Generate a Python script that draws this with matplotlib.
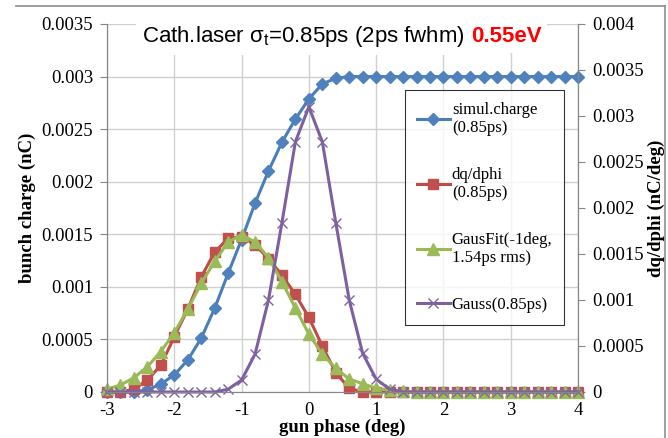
import matplotlib
matplotlib.use("Agg")
import matplotlib.pyplot as plt
from matplotlib.lines import Line2D

# gun phase (deg), step 0.2
phase = [-3.0, -2.8, -2.6, -2.4, -2.2, -2.0, -1.8, -1.6, -1.4, -1.2,
         -1.0, -0.8, -0.6, -0.4, -0.2, 0.0, 0.2, 0.4, 0.6, 0.8,
         1.0, 1.2, 1.4, 1.6, 1.8, 2.0, 2.2, 2.4, 2.6, 2.8,
         3.0, 3.2, 3.4, 3.6, 3.8, 4.0]

# bunch charge (nC), left axis
charge = [0, 0, 0, 0.00002, 0.000076, 0.000162, 0.000304, 0.000511, 0.000796, 0.001129,
          0.00145, 0.001795, 0.002102, 0.002375, 0.002596, 0.002787, 0.00293, 0.002984, 0.003, 0.003,
          0.003, 0.003, 0.003, 0.003, 0.003, 0.003, 0.003, 0.003, 0.003, 0.003,
          0.003, 0.003, 0.003, 0.003, 0.003, 0.003]

# dq/dphi (nC/deg), right axis
dqdphi = [0, 0, 0.00003, 0.00013, 0.00029, 0.0006, 0.0009, 0.00125, 0.00152, 0.00167,
          0.00169, 0.0016, 0.00145, 0.00127, 0.00106, 0.00081, 0.0005, 0.00021, 0.00004, 0,
          0, 0, 0, 0, 0, 0, 0, 0, 0, 0,
          0, 0, 0, 0, 0, 0]

gausfit = [0.00003, 0.000076, 0.000155, 0.000275, 0.00044, 0.000645, 0.0009, 0.00118, 0.00142, 0.00163,
           0.00171, 0.00163, 0.00146, 0.0012, 0.00091, 0.00063, 0.00041, 0.00026, 0.00014, 0.00009,
           0.00004, 0.00002, 0.00001, 0, 0, 0, 0, 0, 0, 0,
           0, 0, 0, 0, 0, 0]

gauss = [0, 0, 0, 0, 0, 0, 0, 0, 0, 0.00003,
         0.00013, 0.00041, 0.001, 0.00184, 0.00272, 0.0031, 0.00272, 0.00184, 0.001, 0.00042,
         0.00014, 0.00003, 0, 0, 0, 0, 0, 0, 0, 0,
         0, 0, 0, 0, 0, 0]

x_ticks = [-3, -2, -1, 0, 1, 2, 3, 4]
left_ticks = [0, 0.0005, 0.001, 0.0015, 0.002, 0.0025, 0.003, 0.0035]
left_labels = ["0", "0.0005", "0.001", "0.0015", "0.002", "0.0025", "0.003", "0.0035"]
right_ticks = [0, 0.0005, 0.001, 0.0015, 0.002, 0.0025, 0.003, 0.0035, 0.004]
right_labels = ["0", "0.0005", "0.001", "0.0015", "0.002", "0.0025", "0.003", "0.0035", "0.004"]

plt.rcParams['font.family'] = 'Liberation Serif'
plt.rcParams['mathtext.fontset'] = 'custom'
plt.rcParams['mathtext.rm'] = 'Liberation Sans'
plt.rcParams['mathtext.it'] = 'Liberation Sans'

grey = '#868686'
gridc = '#d0d0d0'

fig = plt.figure(figsize=(6.68, 4.38), dpi=100)
ax = fig.add_axes([107 / 668, 46 / 438, 471 / 668, 368 / 438])
ax2 = ax.twinx()

ax.set_xlim(-3, 4)
ax.set_ylim(0, 0.0035)
ax2.set_ylim(0, 0.004)

ax.set_xticks(x_ticks)
ax.set_xticklabels([str(v) for v in x_ticks])
ax.set_yticks(left_ticks)
ax.set_yticklabels(left_labels)
ax2.set_yticks(right_ticks)
ax2.set_yticklabels(right_labels)

ax.grid(True, color=gridc, linewidth=1.0)
ax.set_axisbelow(True)

for a in (ax, ax2):
    a.spines['top'].set_visible(False)
    for s in ('left', 'right', 'bottom'):
        a.spines[s].set_color(grey)
    a.tick_params(axis='y', direction='out', length=5, color=grey, labelsize=13.5, pad=5)
    a.tick_params(axis='x', length=0, labelsize=13.5, pad=7)
ax.spines['bottom'].set_color(gridc)

l1, = ax.plot(phase, charge, color='#4A7EBB', lw=2.2, marker='D', ms=6.5,
              mfc='#4F81BD', mec='#4F81BD', clip_on=False, label='simul.charge\n(0.85ps)')
l2, = ax2.plot(phase, dqdphi, color='#BE4B48', lw=2.2, marker='s', ms=7,
               mfc='#C0504D', mec='#C0504D', clip_on=False, label='dq/dphi\n(0.85ps)')
l3, = ax2.plot(phase, gausfit, color='#98B954', lw=2.2, marker='^', ms=8.5,
               mfc='#9BBB59', mec='#9BBB59', clip_on=False, label='GausFit(-1deg,\n1.54ps rms)')
l4, = ax2.plot(phase, gauss, color='#7D60A0', lw=2.2, marker='x', ms=7, mew=1.0,
               mec='#8064A2', clip_on=False, label='Gauss(0.85ps)')

ax.set_xlabel('gun phase (deg)', fontsize=13.5, fontweight='bold', labelpad=0)
ax.set_ylabel('bunch charge (nC)', fontsize=13.5, fontweight='bold', labelpad=4)
ax2.set_ylabel('dq/dphi (nC/deg)', fontsize=13.5, fontweight='bold', labelpad=3)

leg = ax2.legend(handles=[l1, l2, l3, l4], loc='upper left', bbox_to_anchor=(0.633, 0.821),
                 fontsize=12, frameon=True, fancybox=False, edgecolor='black',
                 handlelength=2.0, handletextpad=0.1, labelspacing=1.85, borderpad=0.7,
                 borderaxespad=0)
leg.get_frame().set_linewidth(0.8)

# title inside the plot, black part then red bold part on the same baseline
t1 = ax2.text(0.074, 0.951, r'Cath.laser $\sigma_t$=0.85ps (2ps fwhm)', transform=ax2.transAxes,
              fontsize=16, family='Liberation Sans', va='baseline', ha='left',
              bbox=dict(facecolor='white', edgecolor='none', pad=4), zorder=5)
fig.canvas.draw()
bb = t1.get_window_extent()
bx, by = ax2.transAxes.transform((0.074, 0.951))
ax2.text(bb.x1 + 6, by, '0.55eV', transform=None, va='baseline', ha='left',
         fontsize=16, family='Liberation Sans', fontweight='bold', color='#FF0000',
         bbox=dict(facecolor='white', edgecolor='none', pad=4), zorder=5)

# outer chart border (top and right edges visible)
fig.add_artist(Line2D([16 / 668, 665 / 668], [432 / 438, 432 / 438], color='#8c8c8c', lw=1.2))
fig.add_artist(Line2D([665 / 668, 665 / 668], [0, 432 / 438], color='#8c8c8c', lw=1.2))

fig.savefig('out.png', dpi=100)
